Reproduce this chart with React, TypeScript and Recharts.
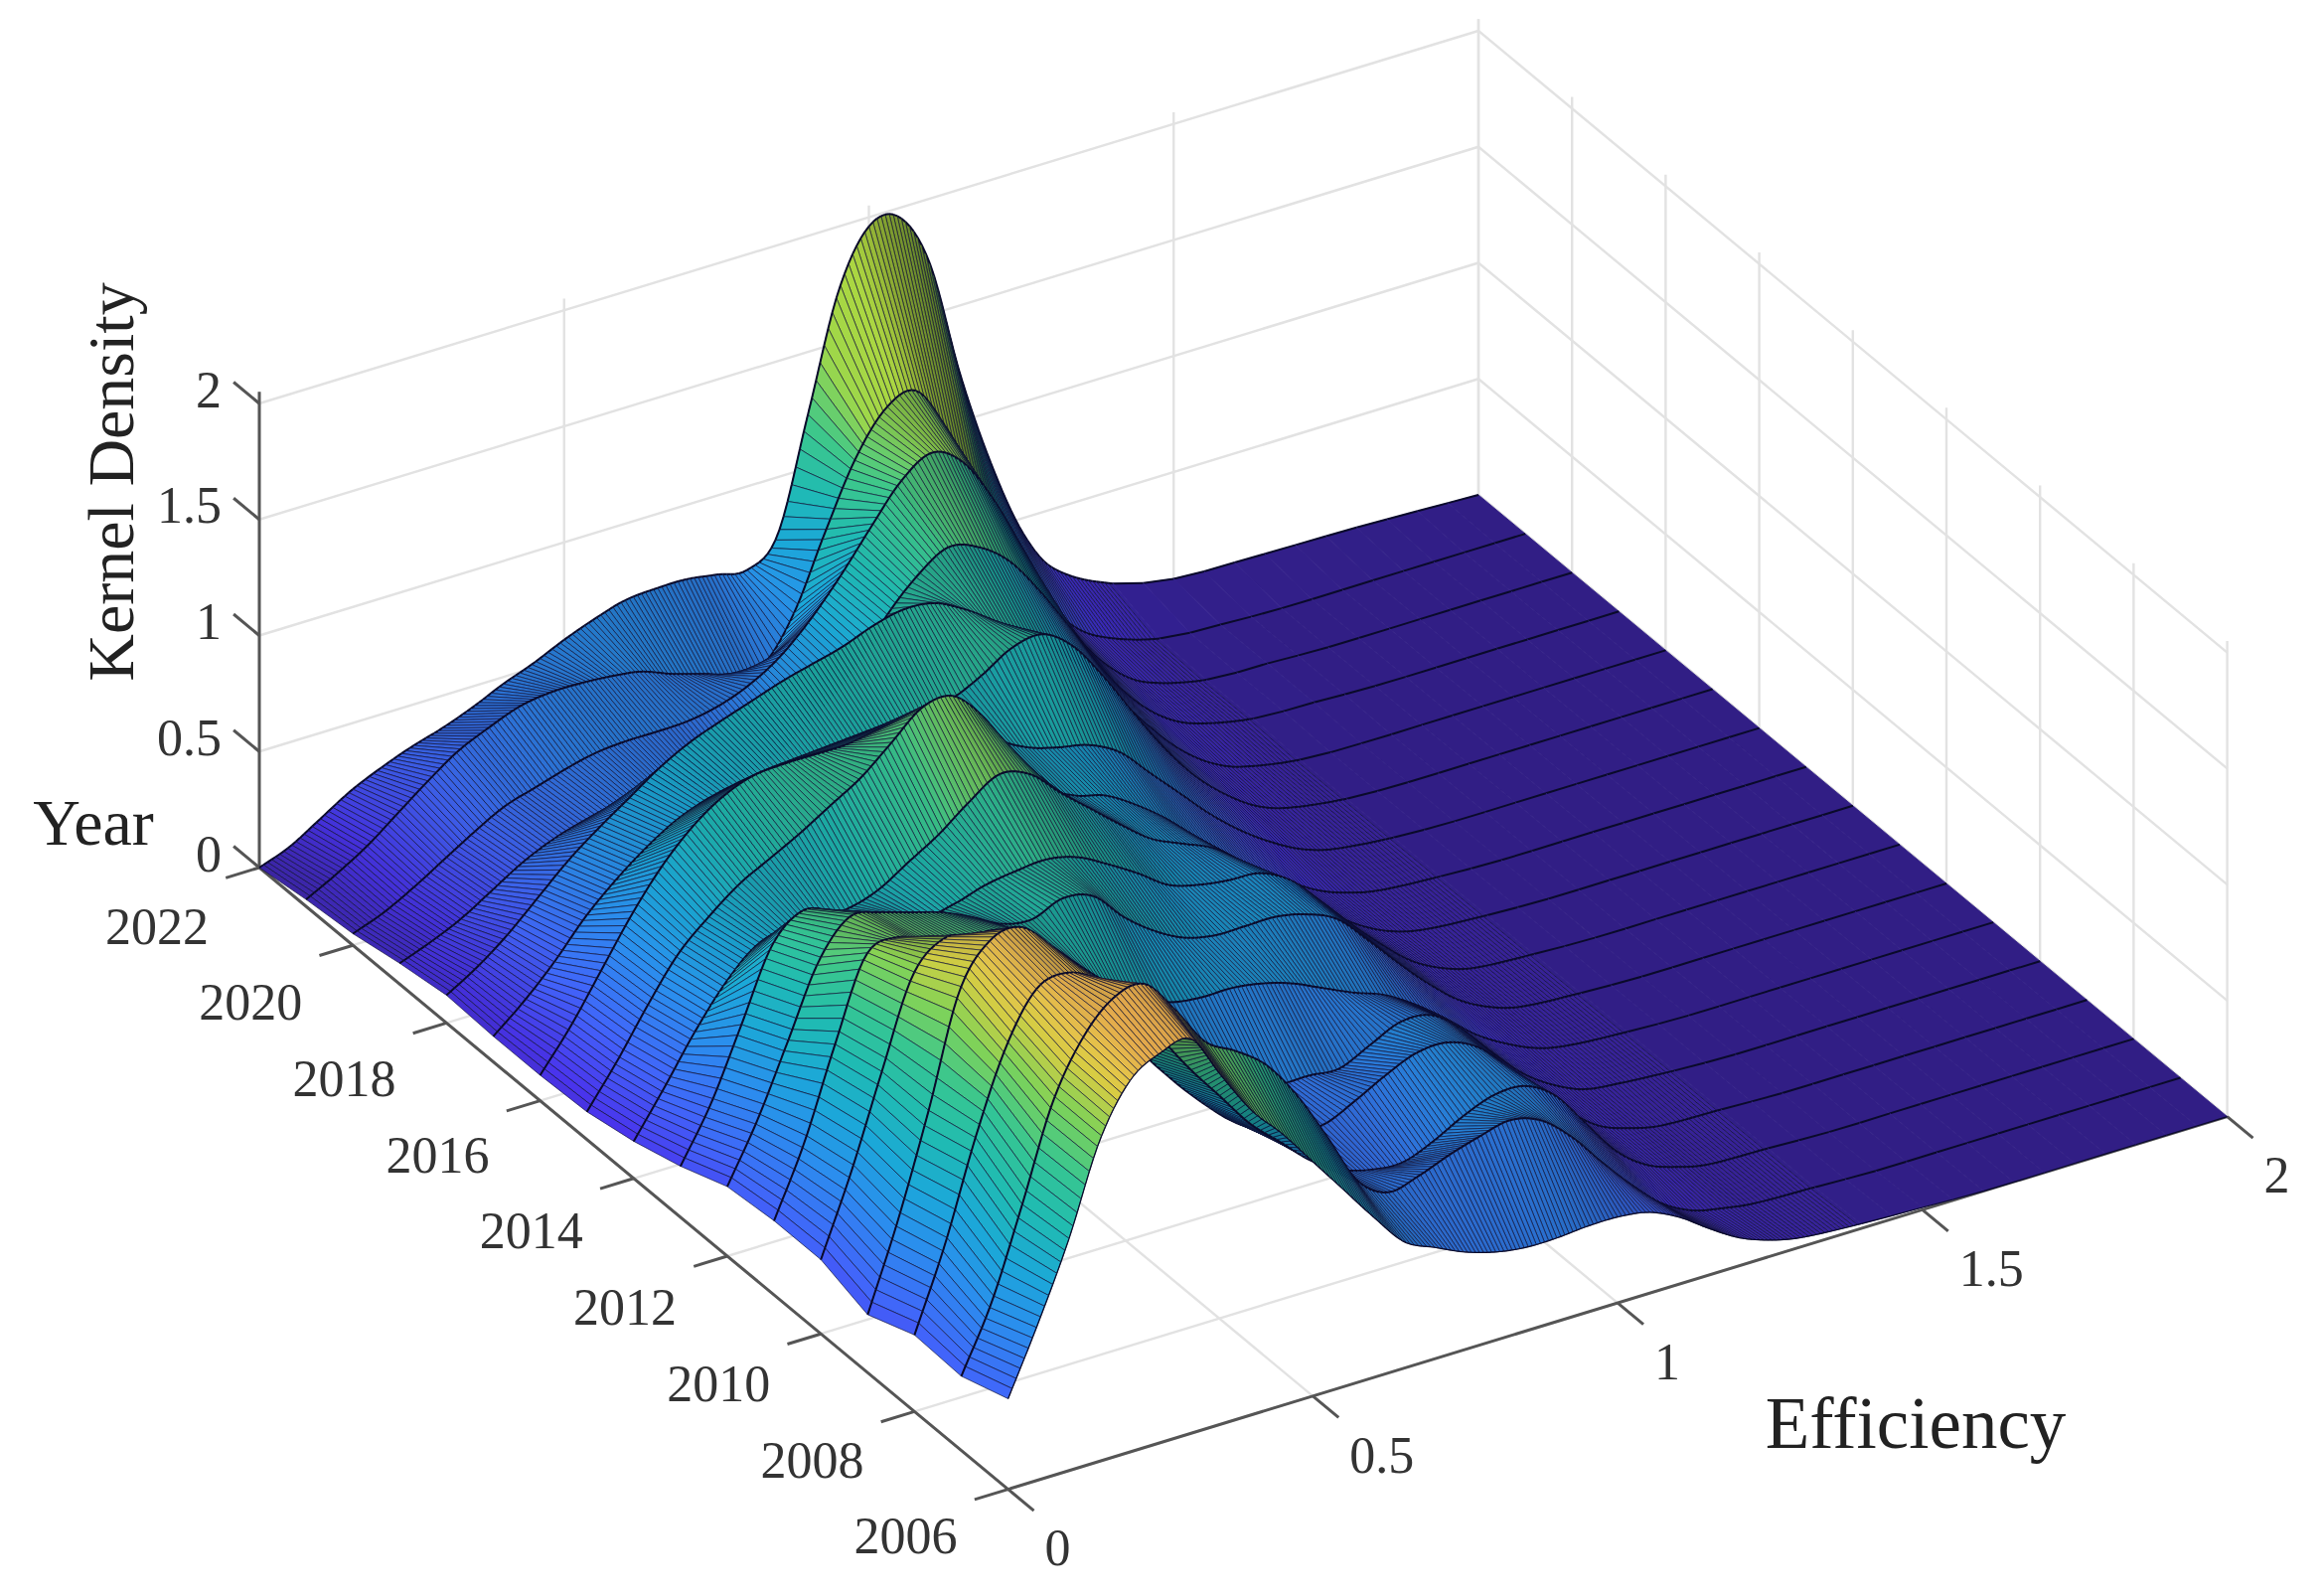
import { Scatter, ScatterChart, XAxis, YAxis } from "recharts";

const WIDTH = 2339;
const HEIGHT = 1606;

const years = [2022, 2021, 2020, 2019, 2018, 2017, 2016, 2015, 2014, 2013, 2012, 2011, 2010, 2009, 2008, 2007, 2006];
const yearTicks = [2006, 2008, 2010, 2012, 2014, 2016, 2018, 2020, 2022];
const effTicks = [0, 0.5, 1, 1.5, 2];
const densityTicks = [0, 0.5, 1, 1.5, 2];

// efficiency positions of the density values below
const efficiency = [
  0, 0.05, 0.1, 0.15, 0.2, 0.25, 0.3, 0.35, 0.4, 0.45, 0.5, 0.55, 0.6, 0.65, 0.7, 0.75, 0.8, 0.85, 0.9, 0.95, 1, 1.05,
  1.1, 1.15, 1.2, 1.25, 1.3, 1.4, 1.5, 1.6, 1.8, 2,
];

// kernel density, one list per year
const d2022 = [0, 0.05, 0.13, 0.21, 0.27, 0.32, 0.36, 0.41, 0.47, 0.52, 0.58, 0.63, 0.67, 0.68, 0.68, 0.66, 0.64, 0.75, 1.23, 1.72, 1.96, 1.96, 1.72, 1.2, 0.78, 0.45, 0.25, 0.1, 0.04, 0.03, 0.02, 0];
const d2021 = [0.03, 0.1, 0.18, 0.28, 0.38, 0.47, 0.53, 0.58, 0.6, 0.6, 0.59, 0.57, 0.52, 0.48, 0.44, 0.44, 0.62, 0.92, 1.2, 1.38, 1.42, 1.22, 0.95, 0.65, 0.4, 0.22, 0.12, 0.03, 0.01, 0, 0, 0];
const d2020 = [0.05, 0.1, 0.17, 0.25, 0.33, 0.4, 0.44, 0.48, 0.51, 0.52, 0.52, 0.525, 0.55, 0.6, 0.68, 0.8, 0.95, 1.12, 1.28, 1.36, 1.28, 1.08, 0.82, 0.55, 0.33, 0.18, 0.09, 0.02, 0.01, 0, 0, 0];
const d2019 = [0.09, 0.14, 0.2, 0.28, 0.36, 0.42, 0.46, 0.49, 0.5, 0.49, 0.47, 0.45, 0.48, 0.55, 0.65, 0.78, 0.95, 1.08, 1.16, 1.12, 1.02, 0.85, 0.65, 0.44, 0.27, 0.15, 0.08, 0.02, 0.01, 0, 0, 0];
const d2018 = [0.12, 0.2, 0.3, 0.42, 0.54, 0.64, 0.73, 0.82, 0.89, 0.94, 0.985, 1.03, 1.065, 1.1, 1.15, 1.18, 1.167, 1.1, 1.01, 0.915, 0.8, 0.68, 0.52, 0.36, 0.22, 0.12, 0.06, 0.01, 0, 0, 0, 0];
const d2017 = [0.11, 0.22, 0.35, 0.5, 0.62, 0.72, 0.8, 0.85, 0.88, 0.9, 0.91, 0.92, 0.93, 0.94, 0.95, 0.96, 1.02, 1.1, 1.12, 1.03, 0.86, 0.66, 0.47, 0.31, 0.19, 0.1, 0.05, 0.01, 0, 0, 0, 0];
const d2016 = [0.11, 0.28, 0.48, 0.68, 0.85, 0.98, 1.07, 1.12, 1.13, 1.13, 1.13, 1.15, 1.17, 1.2, 1.12, 0.96, 0.88, 0.84, 0.81, 0.74, 0.61, 0.48, 0.35, 0.24, 0.15, 0.08, 0.04, 0.01, 0, 0, 0, 0];
const d2015 = [0.12, 0.3, 0.5, 0.68, 0.8, 0.9, 0.97, 1.04, 1.12, 1.2, 1.31, 1.42, 1.43, 1.3, 1.1, 0.92, 0.84, 0.8, 0.72, 0.62, 0.5, 0.39, 0.28, 0.19, 0.11, 0.06, 0.03, 0.01, 0, 0, 0, 0];
const d2014 = [0.16, 0.35, 0.55, 0.72, 0.84, 0.88, 0.88, 0.88, 0.92, 1, 1.08, 1.18, 1.26, 1.22, 1.1, 0.99, 0.88, 0.78, 0.72, 0.66, 0.56, 0.44, 0.32, 0.21, 0.12, 0.06, 0.03, 0.01, 0, 0, 0, 0];
const d2013 = [0.22, 0.45, 0.75, 1.05, 1.16, 1.12, 1.07, 1.02, 0.97, 0.99, 1.03, 1.05, 1.06, 1.03, 0.96, 0.88, 0.79, 0.75, 0.73, 0.72, 0.65, 0.52, 0.38, 0.25, 0.14, 0.07, 0.03, 0.01, 0, 0, 0, 0];
const d2012 = [0.3, 0.55, 0.85, 1.15, 1.3, 1.28, 1.24, 1.2, 1.14, 1.07, 1.05, 1.1, 1.07, 0.94, 0.84, 0.77, 0.74, 0.74, 0.74, 0.71, 0.65, 0.52, 0.38, 0.25, 0.14, 0.07, 0.03, 0.01, 0, 0, 0, 0];
const d2011 = [0.32, 0.62, 1, 1.34, 1.38, 1.33, 1.3, 1.28, 1.25, 1.15, 1.02, 0.9, 0.8, 0.74, 0.72, 0.72, 0.7, 0.66, 0.6, 0.54, 0.49, 0.41, 0.31, 0.2, 0.12, 0.06, 0.03, 0.01, 0, 0, 0, 0];
const d2010 = [0.32, 0.66, 1.05, 1.42, 1.54, 1.52, 1.5, 1.4, 1.25, 1.08, 0.92, 0.78, 0.66, 0.56, 0.5, 0.47, 0.47, 0.46, 0.52, 0.58, 0.57, 0.47, 0.33, 0.2, 0.11, 0.05, 0.03, 0.01, 0, 0, 0, 0];
const d2009 = [0.25, 0.62, 1.05, 1.52, 1.7, 1.72, 1.6, 1.42, 1.22, 1.02, 0.86, 0.72, 0.6, 0.52, 0.47, 0.47, 0.53, 0.6, 0.655, 0.66, 0.6, 0.47, 0.32, 0.2, 0.1, 0.05, 0.02, 0.01, 0, 0, 0, 0];
const d2008 = [0.33, 0.68, 1.1, 1.45, 1.66, 1.69, 1.62, 1.48, 1.3, 1.12, 0.96, 0.8, 0.68, 0.56, 0.48, 0.44, 0.43, 0.48, 0.55, 0.6, 0.6, 0.52, 0.36, 0.2, 0.1, 0.05, 0.02, 0.01, 0, 0, 0, 0];
const d2007 = [0.32, 0.6, 0.98, 1.38, 1.62, 1.75, 1.77, 1.62, 1.44, 1.36, 1.26, 1.09, 0.87, 0.64, 0.55, 0.58, 0.63, 0.67, 0.7, 0.66, 0.55, 0.4, 0.26, 0.14, 0.07, 0.04, 0.02, 0.01, 0, 0, 0, 0];
const d2006 = [0.39, 0.68, 1, 1.38, 1.6, 1.68, 1.7, 1.5, 1.31, 1.17, 1.01, 0.85, 0.69, 0.544, 0.48, 0.42, 0.38, 0.36, 0.36, 0.37, 0.37, 0.35, 0.29, 0.2, 0.12, 0.07, 0.04, 0.02, 0.01, 0, 0, 0];

const densityRows = [d2022, d2021, d2020, d2019, d2018, d2017, d2016, d2015, d2014, d2013, d2012, d2011, d2010, d2009, d2008, d2007, d2006];

// colour of the surface by density, warmer towards the front of the plot
const frontStops: [number, number[]][] = [
  [0, [62, 38, 168]],
  [0.15, [70, 50, 225]],
  [0.35, [62, 96, 238]],
  [0.6, [40, 136, 226]],
  [0.8, [26, 160, 206]],
  [1.0, [30, 178, 170]],
  [1.2, [50, 188, 140]],
  [1.4, [120, 200, 84]],
  [1.55, [208, 194, 64]],
  [1.7, [240, 176, 80]],
  [2.05, [240, 176, 80]],
];
const backStops: [number, number[]][] = [
  [0, [62, 38, 168]],
  [0.15, [70, 50, 225]],
  [0.35, [62, 96, 238]],
  [0.6, [40, 136, 226]],
  [0.8, [26, 160, 206]],
  [1.0, [30, 178, 170]],
  [1.2, [60, 190, 130]],
  [1.4, [150, 205, 70]],
  [1.7, [165, 205, 60]],
  [1.85, [110, 180, 90]],
  [2.05, [44, 150, 112]],
];

// 3d view: year and efficiency run along the floor, density goes straight up
const project = (eff: number, year: number, z: number) => ({
  x: 261 + 613.5 * eff + 47.1 * (2022 - year),
  y: 873 - 187.5 * eff + 39.1 * (2022 - year) - 233.5 * z,
});

const pickColor = (stops: [number, number[]][], z: number) => {
  let i = 0;
  while (i < stops.length - 2 && z > stops[i + 1][0]) i++;
  const [z0, c0] = stops[i];
  const [z1, c1] = stops[i + 1];
  const t = Math.min(1, Math.max(0, (z - z0) / (z1 - z0)));
  return c0.map((c, k) => c + (c1[k] - c) * t);
};

const surfaceColor = (z: number, slope: number, front: number, tint: number) => {
  const a = pickColor(backStops, z);
  const b = pickColor(frontStops, z);
  const light = slope >= 0 ? Math.min(1.05, 0.88 + 0.05 * slope) : Math.max(0.42, 0.88 + 0.045 * slope);
  const rgb = a.map((c, k) => Math.round((c + (b[k] - c) * front) * light * tint));
  return `rgb(${rgb[0]},${rgb[1]},${rgb[2]})`;
};

// smooth reading of one density list between its values
const readRow = (row: number[], e: number) => {
  let i = 0;
  while (i < efficiency.length - 2 && e > efficiency[i + 1]) i++;
  const e0 = efficiency[i];
  const e1 = efficiency[i + 1];
  const h = e1 - e0;
  const m0 = i > 0 ? (row[i + 1] - row[i - 1]) / (e1 - efficiency[i - 1]) : (row[1] - row[0]) / h;
  const m1 = i < row.length - 2 ? (row[i + 2] - row[i]) / (efficiency[i + 2] - e0) : (row[i + 1] - row[i]) / h;
  const t = (e - e0) / h;
  return (
    (2 * t ** 3 - 3 * t ** 2 + 1) * row[i] +
    (t ** 3 - 2 * t ** 2 + t) * h * m0 +
    (-2 * t ** 3 + 3 * t ** 2) * row[i + 1] +
    (t ** 3 - t ** 2) * h * m1
  );
};

const meshEff: number[] = [];
for (let k = 0; k <= 210; k++) meshEff.push(k / 150);
for (let k = 1; k <= 12; k++) meshEff.push(1.4 + k * 0.05);

type Cell = { x: number; y: number; pts: { x: number; y: number }[]; near: boolean; fill: string; hatched: boolean };

// far cells come first so that nearer ones paint over them
const cells: Cell[] = [];
for (let r = 0; r < years.length - 1; r++) {
  for (let c = meshEff.length - 2; c >= 0; c--) {
    const e0 = meshEff[c];
    const e1 = meshEff[c + 1];
    const zs = [
      readRow(densityRows[r], e0),
      readRow(densityRows[r], e1),
      readRow(densityRows[r + 1], e1),
      readRow(densityRows[r + 1], e0),
    ];
    const pts = [
      project(e0, years[r], zs[0]),
      project(e1, years[r], zs[1]),
      project(e1, years[r + 1], zs[2]),
      project(e0, years[r + 1], zs[3]),
    ];
    const z = (zs[0] + zs[1] + zs[2] + zs[3]) / 4;
    const slope = (zs[1] + zs[2] - zs[0] - zs[3]) / 2 / (e1 - e0);
    const hatched = e0 < 1.39;
    cells.push({
      x: pts[0].x,
      y: pts[0].y,
      pts,
      near: r === years.length - 2,
      fill: surfaceColor(z, slope, (r + 0.5) / (years.length - 1), hatched ? 1 : 0.9),
      hatched,
    });
  }
}

const Z_TOP = 2.05;
type Seg = { x: number; y: number; x2: number; y2: number };
const seg = (a: { x: number; y: number }, b: { x: number; y: number }): Seg => ({ x: a.x, y: a.y, x2: b.x, y2: b.y });

const gridLines: Seg[] = [];
const axisLines: Seg[] = [];

yearTicks.forEach((yr) => {
  gridLines.push(seg(project(0, yr, 0), project(2, yr, 0)));
  gridLines.push(seg(project(2, yr, 0), project(2, yr, Z_TOP)));
  axisLines.push(seg(project(0, yr, 0), project(-0.055, yr, 0)));
});
effTicks.forEach((e) => {
  gridLines.push(seg(project(e, 2006, 0), project(e, 2022, 0)));
  gridLines.push(seg(project(e, 2022, 0), project(e, 2022, Z_TOP)));
  axisLines.push(seg(project(e, 2006, 0), project(e, 2005.45, 0)));
});
densityTicks.forEach((z) => {
  gridLines.push(seg(project(0, 2022, z), project(2, 2022, z)));
  gridLines.push(seg(project(2, 2022, z), project(2, 2006, z)));
  axisLines.push(seg(project(0, 2022, z), project(0, 2022.55, z)));
});
axisLines.push(seg(project(0, 2022, 0), project(0, 2022, Z_TOP)));
axisLines.push(seg(project(0, 2022, 0), project(0, 2006, 0)));
axisLines.push(seg(project(0, 2006, 0), project(2, 2006, 0)));

type Label = { x: number; y: number; text: string; size: number; anchor: string; rotate?: number; fill: string };
const labels: Label[] = [];
yearTicks.forEach((yr) => {
  const p = project(0, yr, 0);
  labels.push({ x: p.x - 103, y: p.y + 47 + (yr - 2006) * 0.75, text: String(yr), size: 52, anchor: "middle", fill: "#333" });
});
effTicks.forEach((e) => {
  const p = project(e, 2006, 0);
  labels.push({ x: p.x + 37, y: p.y + 59, text: String(e), size: 52, anchor: "start", fill: "#333" });
});
densityTicks.forEach((z) => {
  const p = project(0, 2022, z);
  labels.push({ x: p.x - 38, y: p.y - 14, text: String(z), size: 52, anchor: "end", fill: "#333" });
});
labels.push({ x: 94, y: 828, text: "Year", size: 66, anchor: "middle", fill: "#222" });
labels.push({ x: 1928, y: 1432, text: "Efficiency", size: 73, anchor: "middle", fill: "#222" });
labels.push({ x: 112, y: 485, text: "Kernel Density", size: 66, anchor: "middle", rotate: -90, fill: "#222" });

const GridShape = (props: any) => {
  const { cx, cy, payload } = props;
  return <line x1={cx} y1={cy} x2={cx + payload.x2 - payload.x} y2={cy + payload.y2 - payload.y} stroke="#e2e2e2" strokeWidth={2.4} />;
};

const AxisShape = (props: any) => {
  const { cx, cy, payload } = props;
  return <line x1={cx} y1={cy} x2={cx + payload.x2 - payload.x} y2={cy + payload.y2 - payload.y} stroke="#555" strokeWidth={3} />;
};

const CellShape = (props: any) => {
  const { cx, cy, payload } = props;
  const dx = cx - payload.x;
  const dy = cy - payload.y;
  const p = payload.pts.map((q: { x: number; y: number }) => ({ x: q.x + dx, y: q.y + dy }));
  const poly = p.map((q: { x: number; y: number }) => `${q.x.toFixed(1)},${q.y.toFixed(1)}`).join(" ");
  return (
    <g>
      <polygon
        points={poly}
        fill={payload.fill}
        stroke={payload.hatched ? "#0b0b30" : payload.fill}
        strokeWidth={payload.hatched ? 0.8 : 0.8}
        strokeOpacity={payload.hatched ? 0.8 : 1}
      />
      <line x1={p[0].x} y1={p[0].y} x2={p[1].x} y2={p[1].y} stroke="#0a0a2a" strokeWidth={2} />
      {payload.near && <line x1={p[3].x} y1={p[3].y} x2={p[2].x} y2={p[2].y} stroke="#0a0a2a" strokeWidth={1.2} />}
    </g>
  );
};

const LabelShape = (props: any) => {
  const { cx, cy, payload } = props;
  return (
    <text
      x={cx}
      y={cy}
      dy="0.34em"
      textAnchor={payload.anchor}
      fontFamily="'Liberation Serif', serif"
      fontSize={payload.size}
      fill={payload.fill}
      transform={payload.rotate ? `rotate(${payload.rotate} ${cx} ${cy})` : undefined}
    >
      {payload.text}
    </text>
  );
};

export default function App() {
  return (
    <div style={{ position: "absolute", left: 0, top: 0, width: WIDTH, height: HEIGHT, background: "#fff" }}>
      <ScatterChart width={WIDTH} height={HEIGHT} margin={{ top: 0, right: 0, bottom: 0, left: 0 }}>
        <XAxis type="number" dataKey="x" domain={[0, WIDTH]} hide />
        <YAxis type="number" dataKey="y" domain={[0, HEIGHT]} reversed hide />
        <Scatter data={gridLines} shape={GridShape} isAnimationActive={false} />
        <Scatter data={axisLines} shape={AxisShape} isAnimationActive={false} />
        <Scatter data={cells} shape={CellShape} isAnimationActive={false} />
        <Scatter data={labels} shape={LabelShape} isAnimationActive={false} />
      </ScatterChart>
    </div>
  );
}
